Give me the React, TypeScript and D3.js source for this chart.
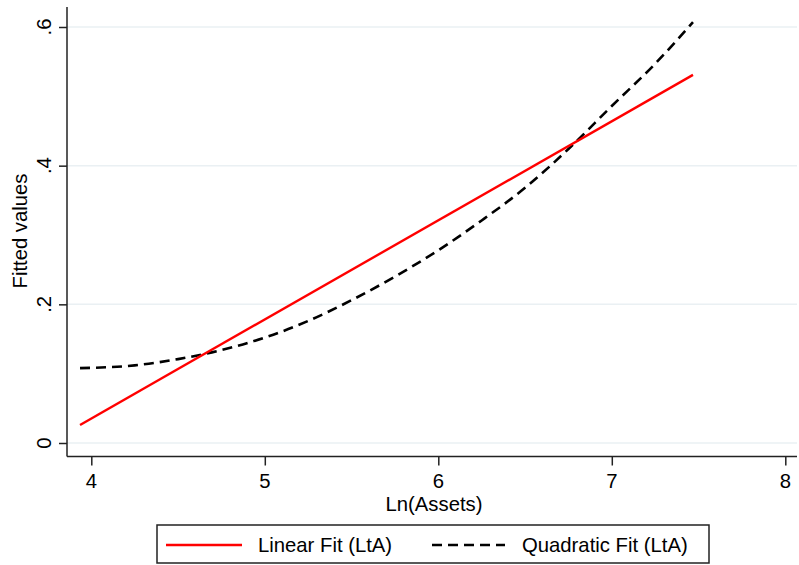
import React, { useEffect, useRef } from "react";
import * as d3 from "d3";

// x positions (Ln assets) and fitted values
const linearX = [3.935, 7.468];
const linearY = [0.026, 0.531];

const quadX = [3.935, 4.25, 4.5, 4.75, 5, 5.25, 5.5, 5.75, 6, 6.25, 6.5, 6.75, 7, 7.25, 7.468];
const quadY = [0.108, 0.112, 0.121, 0.134, 0.152, 0.176, 0.206, 0.24, 0.278, 0.321, 0.368, 0.424, 0.486, 0.547, 0.607];

const xTicks = [4, 5, 6, 7, 8];
const yTicks = [0, 0.2, 0.4, 0.6];
const yTickLabels = ["0", ".2", ".4", ".6"];

const App = () => {
  const svgRef = useRef<SVGSVGElement>(null);

  useEffect(() => {
    document.body.style.margin = "0";
    const svg = d3.select(svgRef.current);
    svg.selectAll("*").remove();

    const w = 799;
    const h = 565;
    const font = "'Liberation Sans', Arial, sans-serif";
    const fs = 20.3;

    svg.attr("width", w).attr("height", h).style("display", "block");
    svg.append("rect").attr("width", w).attr("height", h).attr("fill", "#fff");

    const left = 67, right = 797, top = 7, bottom = 456.5;

    const xScale = d3.scaleLinear().domain([4, 8]).range([91.3, 785.3]);
    const yScale = d3.scaleLinear().domain([0, 0.6]).range([443, 27]);

    // grid
    svg
      .selectAll(".grid")
      .data(yTicks)
      .join("line")
      .attr("x1", left)
      .attr("x2", right)
      .attr("y1", (d) => yScale(d))
      .attr("y2", (d) => yScale(d))
      .attr("stroke", "#eaf0f3")
      .attr("stroke-width", 1.5);

    // lines
    const line = d3
      .line<[number, number]>()
      .x((d) => xScale(d[0]))
      .y((d) => yScale(d[1]));

    const quadLine = d3
      .line<[number, number]>()
      .curve(d3.curveMonotoneX)
      .x((d) => xScale(d[0]))
      .y((d) => yScale(d[1]));

    svg
      .append("path")
      .attr("d", quadLine(quadX.map((x, i) => [x, quadY[i]] as [number, number])))
      .attr("fill", "none")
      .attr("stroke", "#000")
      .attr("stroke-width", 2.6)
      .attr("stroke-dasharray", "10,6");

    svg
      .append("path")
      .attr("d", line(linearX.map((x, i) => [x, linearY[i]] as [number, number])))
      .attr("fill", "none")
      .attr("stroke", "#ff0000")
      .attr("stroke-width", 2.4);

    // axes
    const yAxis = d3.axisLeft(yScale).tickValues(yTicks).tickSize(8).tickFormat(() => "");
    const gy = svg.append("g").attr("transform", `translate(${left},0)`).call(yAxis);
    gy.select(".domain").attr("d", `M0,${top}V${bottom}`).attr("stroke", "#222").attr("stroke-width", 1.5);
    gy.selectAll(".tick line").attr("stroke", "#222").attr("stroke-width", 1.5);

    const xAxis = d3.axisBottom(xScale).tickValues(xTicks).tickSize(9).tickFormat(() => "");
    const gx = svg.append("g").attr("transform", `translate(0,${bottom})`).call(xAxis);
    gx.select(".domain").attr("d", `M${left},0H${right}`).attr("stroke", "#222").attr("stroke-width", 1.5);
    gx.selectAll(".tick line").attr("stroke", "#222").attr("stroke-width", 1.5);

    // tick labels
    svg
      .selectAll(".ylab")
      .data(yTicks)
      .join("text")
      .attr("transform", (d) => `translate(51,${yScale(d)}) rotate(-90)`)
      .attr("text-anchor", "middle")
      .attr("font-family", font)
      .attr("font-size", fs)
      .attr("fill", "#000")
      .text((d, i) => yTickLabels[i]);

    svg
      .selectAll(".xlab")
      .data(xTicks)
      .join("text")
      .attr("x", (d) => xScale(d))
      .attr("y", 487.5)
      .attr("text-anchor", "middle")
      .attr("font-family", font)
      .attr("font-size", fs)
      .attr("fill", "#000")
      .text((d) => d);

    // axis titles
    svg
      .append("text")
      .attr("x", 434)
      .attr("y", 510.5)
      .attr("text-anchor", "middle")
      .attr("font-family", font)
      .attr("font-size", fs)
      .text("Ln(Assets)");

    svg
      .append("text")
      .attr("transform", `translate(27,231) rotate(-90)`)
      .attr("text-anchor", "middle")
      .attr("font-family", font)
      .attr("font-size", fs)
      .text("Fitted values");

    // legend
    const lg = svg.append("g");
    lg.append("rect")
      .attr("x", 157)
      .attr("y", 525)
      .attr("width", 552)
      .attr("height", 38)
      .attr("fill", "#fff")
      .attr("stroke", "#222")
      .attr("stroke-width", 1.5);
    lg.append("line")
      .attr("x1", 166).attr("x2", 242).attr("y1", 545).attr("y2", 545)
      .attr("stroke", "#ff0000").attr("stroke-width", 2.4);
    lg.append("text")
      .attr("x", 258).attr("y", 552)
      .attr("font-family", font).attr("font-size", fs)
      .text("Linear Fit (LtA)");
    lg.append("line")
      .attr("x1", 432).attr("x2", 505).attr("y1", 545).attr("y2", 545)
      .attr("stroke", "#000").attr("stroke-width", 2.6).attr("stroke-dasharray", "10,6");
    lg.append("text")
      .attr("x", 522).attr("y", 552)
      .attr("font-family", font).attr("font-size", fs)
      .text("Quadratic Fit (LtA)");
  });

  return <svg ref={svgRef} />;
};

export default App;
